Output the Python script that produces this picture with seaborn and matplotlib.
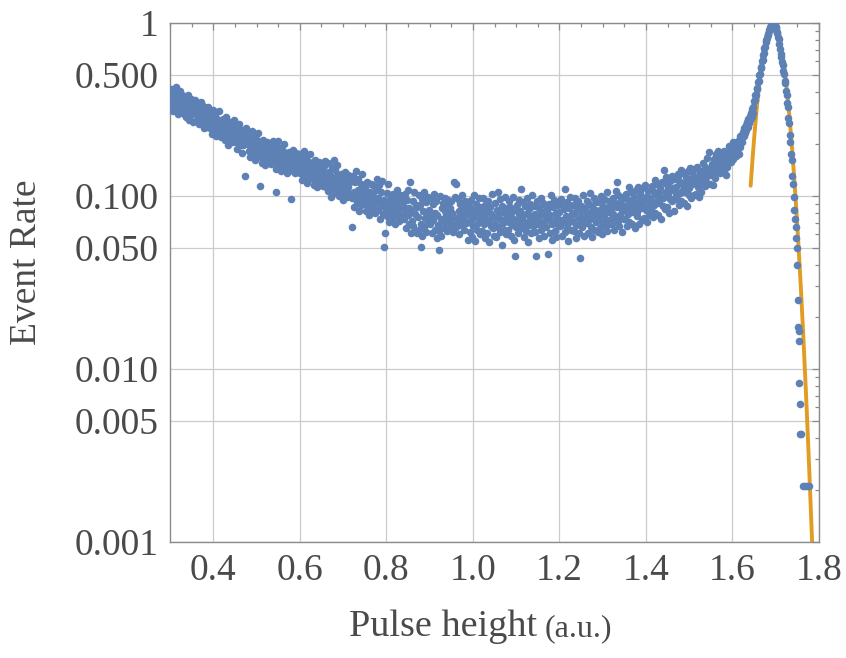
import numpy as np
import pandas as pd
import matplotlib
matplotlib.use("Agg")
import matplotlib.pyplot as plt
import seaborn as sns
from matplotlib.ticker import FixedLocator, FixedFormatter, MultipleLocator, NullFormatter

# Pulse-height spectrum: bin centres start at 0.300 with a 0.0015 step
bin_start = 0.300
bin_width = 0.0015
event_rate = [
    0.382, 0.335, 0.418, 0.351, 0.372, 0.309, 0.396, 0.344, 0.361, 0.427, 0.318, 0.376, 0.339, 0.298, 0.365, 0.402, 0.326, 0.354, 0.311, 0.381,
    0.342, 0.298, 0.371, 0.316, 0.287, 0.353, 0.329, 0.384, 0.301, 0.338, 0.276, 0.322, 0.362, 0.294, 0.311, 0.347, 0.268, 0.325, 0.306, 0.358,
    0.312, 0.276, 0.338, 0.291, 0.259, 0.321, 0.297, 0.349, 0.268, 0.305, 0.284, 0.331, 0.247, 0.289, 0.318, 0.272, 0.299, 0.252, 0.287, 0.326,
    0.281, 0.247, 0.302, 0.263, 0.229, 0.288, 0.254, 0.314, 0.238, 0.271, 0.296, 0.221, 0.259, 0.278, 0.236, 0.266, 0.309, 0.242, 0.218, 0.262,
    0.252, 0.228, 0.279, 0.236, 0.211, 0.263, 0.243, 0.288, 0.219, 0.248, 0.197, 0.238, 0.269, 0.225, 0.243, 0.206, 0.257, 0.231, 0.274, 0.214,
    0.229, 0.204, 0.251, 0.218, 0.187, 0.236, 0.212, 0.262, 0.196, 0.224, 0.241, 0.178, 0.215, 0.198, 0.232, 0.201, 0.130, 0.246, 0.208, 0.221,
    0.207, 0.183, 0.229, 0.194, 0.169, 0.215, 0.188, 0.238, 0.176, 0.201, 0.221, 0.162, 0.197, 0.185, 0.211, 0.174, 0.232, 0.192, 0.114, 0.179,
    0.167, 0.199, 0.155, 0.185, 0.210, 0.164, 0.176, 0.151, 0.192, 0.205, 0.171, 0.158, 0.189, 0.201, 0.162, 0.182, 0.153, 0.196, 0.173, 0.208,
    0.176, 0.157, 0.196, 0.105, 0.143, 0.184, 0.162, 0.207, 0.151, 0.173, 0.189, 0.139, 0.168, 0.156, 0.181, 0.147, 0.199, 0.164, 0.152, 0.176,
    0.171, 0.136, 0.150, 0.180, 0.144, 0.161, 0.096, 0.174, 0.157, 0.140, 0.185, 0.147, 0.166, 0.135, 0.177, 0.152, 0.143, 0.163, 0.175, 0.138,
    0.154, 0.136, 0.172, 0.145, 0.124, 0.161, 0.141, 0.182, 0.131, 0.149, 0.167, 0.119, 0.147, 0.135, 0.158, 0.127, 0.175, 0.143, 0.132, 0.155,
    0.126, 0.152, 0.116, 0.141, 0.162, 0.123, 0.134, 0.112, 0.147, 0.157, 0.129, 0.118, 0.143, 0.154, 0.121, 0.138, 0.114, 0.150, 0.131, 0.160,
    0.135, 0.112, 0.123, 0.155, 0.107, 0.138, 0.115, 0.127, 0.099, 0.147, 0.129, 0.111, 0.161, 0.121, 0.141, 0.104, 0.125, 0.152, 0.116, 0.133,
    0.127, 0.100, 0.111, 0.134, 0.106, 0.120, 0.095, 0.129, 0.116, 0.102, 0.138, 0.108, 0.123, 0.099, 0.132, 0.112, 0.104, 0.121, 0.130, 0.101,
    0.066, 0.097, 0.131, 0.105, 0.086, 0.121, 0.102, 0.139, 0.092, 0.109, 0.126, 0.082, 0.107, 0.096, 0.118, 0.089, 0.134, 0.103, 0.094, 0.116,
    0.090, 0.111, 0.082, 0.101, 0.121, 0.087, 0.096, 0.078, 0.106, 0.117, 0.092, 0.084, 0.103, 0.115, 0.086, 0.099, 0.080, 0.109, 0.093, 0.125,
    0.097, 0.083, 0.115, 0.091, 0.074, 0.106, 0.087, 0.122, 0.079, 0.095, 0.051, 0.061, 0.093, 0.082, 0.104, 0.077, 0.118, 0.089, 0.071, 0.101,
    0.096, 0.074, 0.083, 0.103, 0.079, 0.090, 0.069, 0.099, 0.087, 0.076, 0.108, 0.081, 0.093, 0.072, 0.101, 0.085, 0.078, 0.091, 0.100, 0.075,
    0.086, 0.074, 0.103, 0.081, 0.065, 0.095, 0.078, 0.109, 0.069, 0.085, 0.120, 0.061, 0.083, 0.072, 0.093, 0.067, 0.106, 0.079, 0.063, 0.089,
    0.086, 0.061, 0.076, 0.102, 0.064, 0.089, 0.069, 0.051, 0.059, 0.096, 0.082, 0.066, 0.105, 0.075, 0.092, 0.062, 0.078, 0.099, 0.071, 0.083,
    0.081, 0.069, 0.097, 0.076, 0.061, 0.090, 0.073, 0.103, 0.064, 0.080, 0.094, 0.057, 0.078, 0.068, 0.049, 0.063, 0.100, 0.074, 0.059, 0.085,
    0.072, 0.091, 0.065, 0.082, 0.097, 0.070, 0.078, 0.063, 0.087, 0.095, 0.074, 0.067, 0.085, 0.093, 0.069, 0.080, 0.062, 0.121, 0.076, 0.099,
    0.118, 0.066, 0.075, 0.096, 0.071, 0.082, 0.060, 0.090, 0.079, 0.068, 0.101, 0.073, 0.086, 0.064, 0.094, 0.077, 0.070, 0.083, 0.092, 0.056,
    0.071, 0.088, 0.062, 0.079, 0.095, 0.058, 0.074, 0.067, 0.101, 0.083, 0.055, 0.077, 0.090, 0.064, 0.081, 0.070, 0.097, 0.060, 0.086, 0.073,
    0.084, 0.063, 0.077, 0.098, 0.069, 0.057, 0.089, 0.074, 0.081, 0.061, 0.094, 0.072, 0.054, 0.086, 0.067, 0.079, 0.103, 0.065, 0.076, 0.059,
    0.069, 0.091, 0.076, 0.058, 0.083, 0.105, 0.066, 0.079, 0.062, 0.096, 0.073, 0.052, 0.087, 0.070, 0.081, 0.064, 0.099, 0.075, 0.060, 0.085,
    0.077, 0.064, 0.093, 0.071, 0.086, 0.059, 0.080, 0.068, 0.099, 0.074, 0.056, 0.045, 0.083, 0.066, 0.089, 0.072, 0.061, 0.095, 0.078, 0.070,
    0.082, 0.110, 0.065, 0.076, 0.092, 0.058, 0.071, 0.087, 0.063, 0.079, 0.097, 0.068, 0.054, 0.084, 0.074, 0.090, 0.061, 0.077, 0.102, 0.067,
    0.073, 0.088, 0.062, 0.079, 0.045, 0.069, 0.094, 0.076, 0.057, 0.085, 0.071, 0.098, 0.064, 0.081, 0.067, 0.091, 0.059, 0.078, 0.072, 0.087,
    0.066, 0.083, 0.046, 0.074, 0.090, 0.061, 0.078, 0.101, 0.069, 0.056, 0.086, 0.072, 0.095, 0.063, 0.080, 0.058, 0.089, 0.075, 0.068, 0.093,
    0.081, 0.067, 0.096, 0.073, 0.059, 0.088, 0.071, 0.084, 0.062, 0.110, 0.077, 0.065, 0.092, 0.070, 0.055, 0.085, 0.074, 0.099, 0.064, 0.079,
    0.072, 0.089, 0.063, 0.080, 0.097, 0.068, 0.057, 0.085, 0.075, 0.093, 0.061, 0.082, 0.044, 0.070, 0.087, 0.066, 0.102, 0.076, 0.059, 0.083,
    0.085, 0.070, 0.094, 0.077, 0.061, 0.090, 0.073, 0.104, 0.066, 0.081, 0.058, 0.087, 0.075, 0.098, 0.064, 0.083, 0.071, 0.092, 0.079, 0.062,
    0.076, 0.092, 0.065, 0.083, 0.100, 0.071, 0.060, 0.088, 0.078, 0.096, 0.067, 0.085, 0.073, 0.106, 0.063, 0.081, 0.094, 0.069, 0.087, 0.074,
    0.084, 0.069, 0.097, 0.079, 0.064, 0.091, 0.076, 0.107, 0.120, 0.086, 0.072, 0.101, 0.067, 0.089, 0.078, 0.095, 0.062, 0.083, 0.099, 0.074,
    0.088, 0.074, 0.103, 0.082, 0.067, 0.095, 0.079, 0.112, 0.071, 0.091, 0.085, 0.106, 0.069, 0.093, 0.081, 0.099, 0.065, 0.087, 0.108, 0.077,
    0.081, 0.113, 0.092, 0.069, 0.104, 0.085, 0.097, 0.073, 0.111, 0.088, 0.095, 0.075, 0.116, 0.083, 0.099, 0.071, 0.086, 0.107, 0.078, 0.091,
    0.097, 0.083, 0.114, 0.092, 0.076, 0.106, 0.089, 0.123, 0.080, 0.101, 0.094, 0.118, 0.078, 0.104, 0.091, 0.111, 0.074, 0.098, 0.120, 0.087,
    0.097, 0.142, 0.084, 0.119, 0.105, 0.128, 0.086, 0.101, 0.113, 0.080, 0.122, 0.096, 0.108, 0.131, 0.093, 0.111, 0.082, 0.126, 0.098, 0.104,
    0.112, 0.096, 0.131, 0.134, 0.089, 0.122, 0.104, 0.141, 0.093, 0.117, 0.109, 0.136, 0.091, 0.120, 0.106, 0.128, 0.087, 0.114, 0.139, 0.101,
    0.111, 0.146, 0.124, 0.098, 0.137, 0.117, 0.129, 0.101, 0.143, 0.119, 0.126, 0.103, 0.148, 0.113, 0.131, 0.099, 0.115, 0.139, 0.106, 0.121,
    0.136, 0.121, 0.155, 0.131, 0.114, 0.147, 0.128, 0.165, 0.119, 0.142, 0.135, 0.180, 0.117, 0.146, 0.133, 0.154, 0.115, 0.141, 0.163, 0.127,
    0.161, 0.138, 0.174, 0.151, 0.183, 0.146, 0.166, 0.136, 0.178, 0.154, 0.142, 0.173, 0.149, 0.181, 0.139, 0.165, 0.153, 0.133, 0.159, 0.148,
    0.176, 0.161, 0.195, 0.171, 0.157, 0.188, 0.169, 0.206, 0.164, 0.186, 0.178, 0.203, 0.171, 0.194, 0.183, 0.209, 0.176, 0.198, 0.221, 0.191,
    0.212, 0.226, 0.205, 0.234, 0.221, 0.248, 0.232, 0.256, 0.241, 0.268, 0.252, 0.279, 0.264, 0.291, 0.276, 0.302, 0.288, 0.317, 0.301, 0.328,
    0.352, 0.357, 0.381, 0.386, 0.414, 0.421, 0.455, 0.463, 0.501, 0.509, 0.547, 0.558, 0.602, 0.611, 0.656, 0.672, 0.716, 0.731, 0.778, 0.794,
    0.817, 0.856, 0.866, 0.905, 0.913, 0.946, 0.952, 0.981, 0.978, 0.998, 1.000, 0.987, 0.979, 0.948, 0.936, 0.893, 0.876, 0.829, 0.806, 0.752,
    0.703, 0.659, 0.638, 0.592, 0.571, 0.528, 0.506, 0.463, 0.447, 0.402, 0.386, 0.343, 0.326, 0.284, 0.264, 0.226, 0.204, 0.176, 0.162, 0.131,
    0.118, 0.099, 0.083, 0.074, 0.066, 0.057,
]

# Sparse high-energy edge beyond the last regular bin
edge_height = [1.749, 1.750, 1.751, 1.752, 1.753, 1.753, 1.754, 1.755, 1.756, 1.759, 1.763, 1.768, 1.773, 1.778]
edge_rate = [0.050, 0.040, 0.025, 0.0175, 0.0165, 0.0145, 0.0083, 0.0063, 0.0042, 0.0042, 0.0021, 0.0021, 0.0021, 0.0021]

# Gaussian fit to the photopeak
fit_amplitude = 1.0
fit_mean = 1.693
fit_sigma = 0.0245
fit_range = (1.642, 1.80)

y_ticks = [0.001, 0.005, 0.010, 0.050, 0.100, 0.500, 1.0]
y_tick_labels = ["0.001", "0.005", "0.010", "0.050", "0.100", "0.500", "1"]
x_ticks = [0.4, 0.6, 0.8, 1.0, 1.2, 1.4, 1.6, 1.8]
x_tick_labels = ["0.4", "0.6", "0.8", "1.0", "1.2", "1.4", "1.6", "1.8"]

BLUE = "#5E81B5"
ORANGE = "#E19C24"
TEXT = "#4a4a4a"
FRAME = "#8a8a8a"
GRID = "#cbcbcb"

bin_centres = bin_start + bin_width * np.arange(len(event_rate))
spectrum = pd.DataFrame({
    "height": np.concatenate([bin_centres, edge_height]),
    "rate": np.concatenate([event_rate, edge_rate]),
})
fit_x = np.linspace(fit_range[0], fit_range[1], 400)
fit = pd.DataFrame({
    "height": fit_x,
    "rate": fit_amplitude * np.exp(-(fit_x - fit_mean) ** 2 / (2 * fit_sigma ** 2)),
})

sns.set_theme(style="white")
plt.rcParams["font.family"] = ["Liberation Serif", "DejaVu Serif"]

fig = plt.figure(figsize=(8.46, 6.58), dpi=100)
ax = fig.add_axes([170 / 846, 116 / 658, 649 / 846, 519 / 658])

sns.lineplot(data=fit, x="height", y="rate", color=ORANGE, linewidth=2.8,
             estimator=None, sort=False, ax=ax, zorder=2)
sns.scatterplot(data=spectrum, x="height", y="rate", color=BLUE, s=30,
                linewidth=0, alpha=1.0, ax=ax, zorder=3)

ax.set_yscale("log")
ax.set_xlim(0.3, 1.8)
ax.set_ylim(0.001, 1.0)

ax.xaxis.set_major_locator(FixedLocator(x_ticks))
ax.xaxis.set_major_formatter(FixedFormatter(x_tick_labels))
ax.xaxis.set_minor_locator(MultipleLocator(0.05))
ax.yaxis.set_major_locator(FixedLocator(y_ticks))
ax.yaxis.set_major_formatter(FixedFormatter(y_tick_labels))
y_minor = [k * d for d in (0.001, 0.01, 0.1) for k in range(2, 10)]
ax.yaxis.set_minor_locator(FixedLocator(y_minor))
ax.yaxis.set_minor_formatter(NullFormatter())

ax.grid(True, which="major", color=GRID, linewidth=0.9)
ax.set_axisbelow(True)

ax.tick_params(which="both", direction="in", top=True, right=True,
               labeltop=False, labelright=False, color=FRAME,
               labelcolor=TEXT, labelsize=27, width=0.9)
ax.tick_params(which="major", length=5, pad=8)
ax.tick_params(which="minor", length=3)
for side in ax.spines.values():
    side.set_color(FRAME)
    side.set_linewidth(1.0)

ax.set_xlabel("")
ax.set_ylabel("")
fig.text(27 / 846, 1 - 262 / 658, "Event Rate", rotation=90, ha="center",
         va="center", fontsize=27, color=TEXT)
fig.text(537 / 846, 1 - 636 / 658, "Pulse height", ha="right",
         va="baseline", fontsize=27.5, color=TEXT)
fig.text(545 / 846, 1 - 636 / 658, "(a.u.)", ha="left",
         va="baseline", fontsize=23, color=TEXT)

fig.savefig("out.png", dpi=100)
